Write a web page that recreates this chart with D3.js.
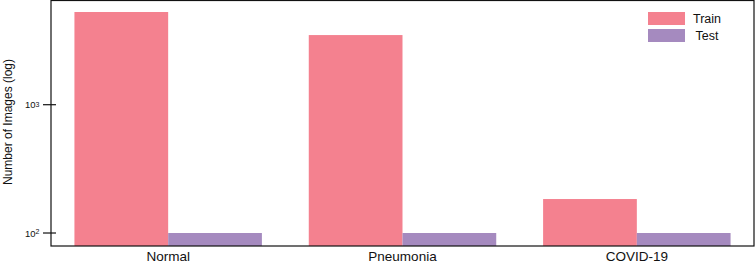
<!DOCTYPE html>
<html>
<head>
<meta charset="utf-8">
<script src="https://cdn.jsdelivr.net/npm/d3@7"></script>
<style>
  html, body { margin: 0; padding: 0; background: #fff; }
  svg { display: block; font-family: "Liberation Sans", Arial, Helvetica, sans-serif; }
</style>
</head>
<body>
<div id="chart"></div>
<script>
const categories = ["Normal", "Pneumonia", "COVID-19"];
const seriesNames = ["Train", "Test"];
const trainCounts = [5280, 3490, 184];
const testCounts = [100, 100, 100];
const yTicks = [{value: 100, exp: "2"}, {value: 1000, exp: "3"}];

const W = 755, H = 264;
const plot = {left: 51, right: 754, top: 0.5, bottom: 246};
const colors = {Train: "#f4818f", Test: "#a58abf"};

const data = categories.map((c, i) => ({cat: c, Train: trainCounts[i], Test: testCounts[i]}));

const svg = d3.select("#chart").append("svg")
    .attr("width", W)
    .attr("height", H);

const x = d3.scaleBand()
    .domain(categories)
    .range([plot.left, plot.right])
    .paddingInner(0.2)
    .paddingOuter(0.1);

const xSub = d3.scaleBand()
    .domain(seriesNames)
    .range([0, x.bandwidth()]);

const y = d3.scaleLog()
    .domain([79.2, 6490])
    .range([plot.bottom, plot.top]);

// bars
const groups = svg.selectAll(".grp")
    .data(data)
    .enter().append("g")
    .attr("class", "grp")
    .attr("transform", d => `translate(${x(d.cat)},0)`);

groups.selectAll("rect")
    .data(d => seriesNames.map(s => ({key: s, value: d[s]})))
    .enter().append("rect")
    .attr("x", d => xSub(d.key))
    .attr("width", xSub.bandwidth())
    .attr("y", d => y(d.value))
    .attr("height", d => plot.bottom - y(d.value))
    .attr("fill", d => colors[d.key]);

// frame
svg.append("rect")
    .attr("x", plot.left)
    .attr("y", plot.top)
    .attr("width", plot.right - plot.left)
    .attr("height", plot.bottom - plot.top)
    .attr("fill", "none")
    .attr("stroke", "#111")
    .attr("stroke-width", 1.2);

// y ticks (cross the axis)
const yt = svg.selectAll(".ytick")
    .data(yTicks)
    .enter().append("g")
    .attr("class", "ytick")
    .attr("transform", d => `translate(0,${y(d.value)})`);

yt.append("line")
    .attr("x1", plot.left - 8)
    .attr("x2", plot.left + 5)
    .attr("stroke", "#111")
    .attr("stroke-width", 1.2);

const ytxt = yt.append("text")
    .attr("x", plot.left - 26)
    .attr("y", 3.5)
    .attr("text-anchor", "start")
    .attr("font-size", 9.5)
    .attr("fill", "#111");
ytxt.append("tspan").text("10");
ytxt.append("tspan")
    .attr("font-size", 7)
    .attr("dy", d => d.exp === "2" ? -3 : -1)
    .text(d => d.exp);

// x labels
svg.selectAll(".xlab")
    .data(categories)
    .enter().append("text")
    .attr("class", "xlab")
    .attr("x", d => x(d) + x.bandwidth() / 2)
    .attr("y", 261)
    .attr("text-anchor", "middle")
    .attr("font-size", 13.5)
    .attr("fill", "#111")
    .text(d => d);

// y title
svg.append("text")
    .attr("transform", `translate(11.5,122) rotate(-90)`)
    .attr("text-anchor", "middle")
    .attr("font-size", 12)
    .attr("fill", "#111")
    .text("Number of Images (log)");

// legend
const leg = svg.selectAll(".leg")
    .data(seriesNames)
    .enter().append("g")
    .attr("class", "leg")
    .attr("transform", (d, i) => `translate(648,${12 + i * 17})`);

leg.append("rect")
    .attr("width", 37)
    .attr("height", 13)
    .attr("fill", d => colors[d]);

leg.append("text")
    .attr("x", 59)
    .attr("y", 11)
    .attr("text-anchor", "middle")
    .attr("font-size", 12.5)
    .attr("fill", "#111")
    .text(d => d);
</script>
</body>
</html>
